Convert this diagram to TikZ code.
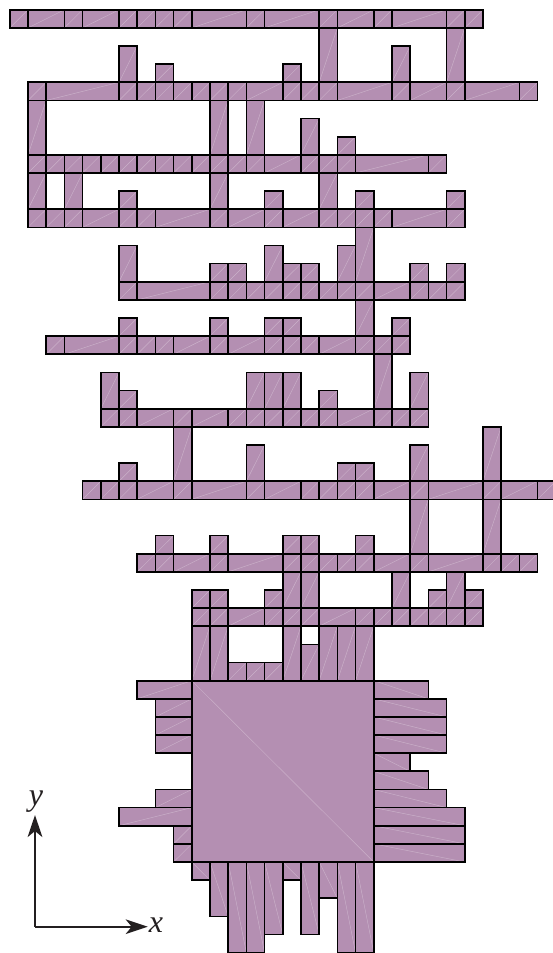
\documentclass[tikz,border=0pt]{standalone}
\usepackage{fontspec}
\setmainfont{Liberation Serif}
\usetikzlibrary{arrows.meta}
\definecolor{piecefill}{RGB}{180,143,178}
\definecolor{axisink}{RGB}{35,31,32}
\tikzset{
  piece/.style={fill=piecefill,draw=black,line width=1.25pt,line join=miter},
  seam/.style={draw=white,opacity=0.3,line width=0.35pt},
  axisline/.style={draw=axisink,line width=1.4pt,-{Stealth[length=16.5pt,width=11pt,inset=4.5pt]}},
  axislabel/.style={text=axisink,font=\fontsize{24}{24}\selectfont\itshape,inner sep=0pt}
}
% piece with seam rising to the right
\newcommand{\pcu}[4]{%
  \fill[piecefill] (#1,#2) rectangle (#3,#4);
  \draw[seam] (#1,#4) -- (#3,#2);
  \draw[piece,fill=none] (#1,#2) rectangle (#3,#4);}
% piece with seam falling to the right
\newcommand{\pcd}[4]{%
  \fill[piecefill] (#1,#2) rectangle (#3,#4);
  \draw[seam] (#1,#2) -- (#3,#4);
  \draw[piece,fill=none] (#1,#2) rectangle (#3,#4);}
% horizontal row: j, first break, remaining breaks
\newcommand{\hrow}[3]{%
  \foreach \bk [remember=\bk as \ak (initially #2)] in {#3} {%
    \pgfmathsetmacro{\jb}{#1+1}%
    \pcu{\ak}{#1}{\bk}{\jb}%
  }}
% unit-wide vertical bars: j top, j bottom, list of k
\newcommand{\vbars}[3]{%
  \foreach \kk in {#3} {%
    \pgfmathsetmacro{\kb}{\kk+1}%
    \pcu{\kk}{#1}{\kb}{#2}%
  }}
\begin{document}
\begin{tikzpicture}[x=13.65pt,y=-13.6pt]
\clip (-0.538,-0.54) rectangle (29.846,52.02);
% band 1
\vbars{1}{4}{17,24}
\hrow{0}{0}{1,3,4,6,7,8,9,10,13,14,17,18,20,21,24,25,26}
% band 2
\vbars{2}{4}{6,21}
\vbars{3}{4}{8,15}
\vbars{5}{8}{1,11,13}
\hrow{4}{1}{2,6,7,8,9,10,11,12,13,15,16,17,18,21,22,24,25,28,29}
% band 3
\vbars{6}{8}{16}
\vbars{7}{8}{18}
\vbars{9}{11}{1,3,11,17}
\hrow{8}{1}{2,3,4,5,6,7,8,9,10,11,12,13,14,16,17,18,19,23,24}
% band 4
\vbars{10}{11}{6,14,19,24}
\vbars{12}{15}{19}
\hrow{11}{1}{2,3,4,6,7,8,11,12,14,15,17,18,19,20,21,24,25}
% band 5
\vbars{13}{15}{6,14,18}
\vbars{14}{15}{11,12,15,16,22,24}
\vbars{16}{18}{19}
\hrow{15}{6}{7,11,12,13,14,15,16,17,18,19,20,22,23,24,25}
% band 6
\vbars{17}{18}{6,11,14,15,21}
\vbars{19}{22}{20}
\hrow{18}{2}{3,6,7,8,9,11,12,14,15,16,17,19,20,21,22}
% band 7
\vbars{20}{22}{5,13,14,15,22}
\vbars{21}{22}{6,17}
\vbars{23}{26}{9}
\hrow{22}{5}{6,7,9,10,12,13,14,15,16,17,18,20,21,22,23}
% band 8
\vbars{25}{26}{6,18,19}
\vbars{24}{26}{13,22}
\vbars{23}{26}{26}
\vbars{27}{30}{22,26}
\hrow{26}{4}{5,6,7,9,10,13,14,16,17,18,19,20,22,23,26,27,29,30}
% band 9
\vbars{29}{30}{8,11,15,16,19}
\vbars{31}{33}{15,16,21,24}
\hrow{30}{7}{8,9,11,12,15,16,17,18,19,20,22,23,26,27,28,29}
% band 10
\vbars{32}{33}{10,11,14,23,25}
\vbars{34}{37}{10,11,15,17,18,19}
\vbars{35}{37}{16}
\vbars{36}{37}{12,13,14}
\hrow{33}{10}{11,12,14,15,16,17,19,20,21,22,23,24,25,26}
% left side
\pcu{7}{37}{10}{38}
\pcu{8}{38}{10}{39}
\pcu{8}{39}{10}{40}
\pcu{8}{40}{10}{41}
\pcu{8}{43}{10}{44}
\pcu{6}{44}{10}{45}
\pcu{9}{45}{10}{46}
\pcu{9}{46}{10}{47}
% right side
\pcd{20}{37}{23}{38}
\pcd{20}{38}{24}{39}
\pcd{20}{39}{24}{40}
\pcd{20}{40}{24}{41}
\pcd{20}{41}{22}{42}
\pcd{20}{42}{23}{43}
\pcd{20}{43}{24}{44}
\pcd{20}{44}{25}{45}
\pcd{20}{45}{25}{46}
\pcd{20}{46}{25}{47}
% bottom side
\pcd{10}{47}{11}{48}
\pcd{11}{47}{12}{50}
\pcd{12}{47}{13}{52}
\pcd{13}{47}{14}{52}
\pcd{14}{47}{15}{51}
\pcd{15}{47}{16}{48}
\pcd{16}{47}{17}{51}
\pcd{17}{47}{18}{49}
\pcd{18}{47}{19}{52}
\pcd{19}{47}{20}{52}
% central square
\pcd{10}{37}{20}{47}
% axes
\coordinate (o) at (1.385,50.57);
\coordinate (ytip) at (1.385,44.41);
\coordinate (xtip) at (7.577,50.57);
\draw[axisline] (o) -- (ytip);
\draw[axisline] (o) -- (xtip);
\node[axislabel] (ylab) at (1.44,43.65) {y};
\node[axislabel] (xlab) at (8.03,50.5) {x};
\end{tikzpicture}
\end{document}
